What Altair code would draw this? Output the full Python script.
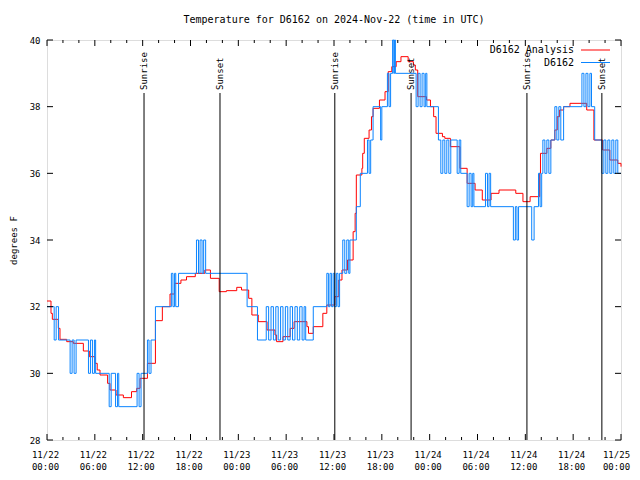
import altair as alt
import pandas as pd

# hours since 2024-11-22 00:00 UTC
analysis_hours = [0.0, 0.5, 0.67, 1.42, 1.63, 2.47, 3.3, 4.56, 5.31, 6.02, 6.3, 6.65, 7.6, 7.9, 8.66,
                  9.58, 10.6, 11.25, 11.67, 12.6, 13.6, 14.47, 15.43, 16.0, 16.8, 17.5, 18.6, 19.8,
                  20.5, 21.6, 22.5, 23.8, 24.4, 25.3, 25.7, 26.5, 27.6, 28.6, 28.8, 29.6, 30.5, 31.0,
                  32.6, 32.8, 33.4, 34.6, 35.1, 36.1, 36.6, 37.0, 37.7, 38.4, 38.65, 38.8, 39.5, 39.6,
                  39.8, 40.4, 40.7, 40.9, 41.7, 42.4, 42.8, 43.25, 43.8, 44.4, 45.3, 45.96, 46.2, 46.5,
                  47.6, 48.1, 48.5, 48.8, 49.6, 49.9, 50.6, 51.8, 52.7, 53.7, 54.6, 55.7, 56.7, 58.8,
                  59.7, 60.6, 61.8, 61.9, 62.7, 63.2, 63.7, 64.0, 64.3, 64.8, 65.6, 67.7, 68.6, 69.7,
                  70.6, 71.6, 72.0]
analysis_temps = [32.17, 31.8, 31.62, 31.35, 31.02, 30.95, 30.9, 30.67, 30.5, 30.3, 30.1, 29.95, 29.7, 29.5, 29.35,
                  29.27, 29.45, 29.55, 29.85, 30.3, 31.58, 32.0, 32.38, 32.7, 32.8, 32.9, 33.0, 33.1,
                  32.85, 32.45, 32.48, 32.58, 32.5, 32.25, 31.75, 31.55, 31.3, 31.15, 30.95, 31.1, 31.35, 31.55,
                  31.4, 31.2, 31.4, 31.8, 32.05, 32.3, 32.8, 33.1, 33.4, 34.25, 34.8, 35.95, 36.15, 36.6,
                  37.05, 37.3, 37.7, 37.95, 38.2, 38.45, 39.05, 39.2, 39.35, 39.5, 39.35, 39.25, 39.1, 38.3,
                  38.2, 38.0, 37.7, 37.2, 37.1, 37.05, 36.8, 36.15, 35.7, 35.5, 35.2, 35.4, 35.5, 35.4,
                  35.15, 35.3, 36.0, 36.6, 36.75, 37.0, 37.3, 37.7, 37.9, 38.0, 38.1, 37.9, 37.0, 36.7,
                  36.4, 36.3, 36.2]

obs_hours = [0.0, 0.9, 1.15, 1.45,
             2.9, 3.15, 3.4, 3.65,
             5.2, 5.45, 5.7, 5.95, 6.1,
             7.8, 8.05, 8.6, 8.85, 9.0,
             11.3, 11.55, 11.8,
             12.6, 12.8, 13.05, 13.6,
             15.6, 15.8, 16.0, 16.15, 16.5,
             18.75, 19.0, 19.2, 19.45, 19.65, 19.9,
             25.1, 26.4,
             27.5, 27.8, 28.1, 28.4, 28.7, 29.0, 29.3, 29.6, 29.9, 30.2, 30.5, 30.8, 31.1, 31.4, 31.7, 32.0, 32.25, 32.45,
             33.4,
             35.1, 35.3, 35.5, 35.7, 35.9, 36.1, 36.3, 36.5, 36.7,
             37.1, 37.35, 37.6, 37.85, 38.0,
             38.8, 39.3, 40.2, 40.4, 40.6, 40.9, 41.85, 42.0,
             42.7, 42.9, 43.1, 43.35, 43.5, 43.6, 43.7,
             46.3, 46.55, 46.8, 47.05, 47.3, 47.5, 47.65,
             49.1, 49.4, 49.65, 49.9, 50.15, 50.4, 50.65, 51.45, 51.7, 51.9,
             52.7, 52.95, 53.2, 53.4, 53.55,
             55.0, 55.25, 55.45, 55.65,
             58.5, 58.75, 58.95, 59.15,
             60.8, 61.1,
             61.65, 61.85, 62.05,
             62.2, 62.45, 62.7, 62.95, 63.2,
             63.7, 63.95, 64.2, 64.45, 64.8,
             67.1, 67.35, 67.6, 67.85, 68.1, 68.3,
             68.7,
             69.6, 69.85, 70.1, 70.35, 70.6, 70.85, 71.1, 71.35, 71.6, 72.0]
obs_temps = [32, 31, 32, 31,
             30, 31, 30, 31,
             30, 31, 30, 31, 30,
             29, 30, 29, 30, 29,
             30, 29, 30,
             31, 30, 31, 32,
             33, 32, 33, 32, 33,
             34, 33, 34, 33, 34, 33,
             32, 31,
             32, 31, 32, 31, 32, 31, 32, 31, 32, 31, 32, 31, 32, 31, 32, 31, 32, 31,
             32,
             33, 32, 33, 32, 33, 32, 33, 32, 33,
             34, 33, 34, 33, 34,
             35, 36, 37, 36, 37, 38, 37, 38,
             39, 38, 39, 40, 39, 40, 39,
             38, 39, 38, 39, 38, 39, 38,
             37, 36, 37, 36, 37, 36, 37, 36, 37, 36,
             35, 36, 35, 36, 35,
             36, 35, 36, 35,
             34, 35, 34, 35,
             34, 35,
             36, 35, 36,
             37, 36, 37, 36, 37,
             38, 37, 38, 37, 38,
             39, 38, 39, 38, 39, 38,
             37,
             36, 37, 36, 37, 36, 37, 36, 37, 36, 36]

sun_hours = [12.17, 21.7, 36.1, 45.67, 60.2, 69.6]
sun_labels = ["Sunrise", "Sunset", "Sunrise", "Sunset", "Sunrise", "Sunset"]

y_tick_values = [28, 30, 32, 34, 36, 38, 40]
x_major_ticks = [0, 6, 12, 18, 24, 30, 36, 42, 48, 54, 60, 66, 72]
x_minor_ticks = [2, 4, 8, 10, 14, 16, 20, 22, 26, 28, 32, 34, 38, 40, 44, 46, 50, 52, 56, 58, 62, 64, 68, 70]

FONT = "DejaVu Sans Mono"
W, H = 574, 400
BLUE = "#0a84ff"
RED = "#ff0000"

analysis_df = pd.DataFrame({"h": analysis_hours, "t": analysis_temps})
obs_df = pd.DataFrame({"h": obs_hours, "t": obs_temps})
sun_df = pd.DataFrame({"h": sun_hours, "label": sun_labels})
ytick_df = pd.DataFrame({"t": y_tick_values})
xmaj_df = pd.DataFrame({"h": x_major_ticks})
xmin_df = pd.DataFrame({"h": x_minor_ticks})

xs = alt.Scale(domain=[0, 72], nice=False, zero=False)
ys = alt.Scale(domain=[28, 40], nice=False, zero=False)

label_expr = ("['11/' + (22 + floor(datum.value / 24)), "
              "(datum.value % 24 < 10 ? '0' : '') + (datum.value % 24) + ':00']")
xaxis = alt.Axis(values=x_major_ticks, ticks=False, domain=False, grid=False, title=None,
                 labelExpr=label_expr, labelFont=FONT, labelFontSize=9, labelColor="black",
                 labelPadding=10, labelLineHeight=12,
                 labelOffset={"condition": {"test": "datum.value == 72", "value": -5}, "value": -2},
                 labelFlush=False, labelOverlap=False)
yaxis = alt.Axis(values=y_tick_values, ticks=False, domain=False, grid=False, title="degrees F",
                 labelFont=FONT, labelFontSize=9, labelColor="black", labelPadding=7,
                 titleFont=FONT, titleFontSize=9, titleFontWeight="normal", titleColor="black",
                 titleAngle=270, titleX=-34, titleY=200, titleAlign="center", titleBaseline="middle")

X = alt.X("h:Q", scale=xs, axis=xaxis)
Y = alt.Y("t:Q", scale=ys, axis=yaxis)

red = alt.Chart(analysis_df).mark_line(color=RED, strokeWidth=1, interpolate="step-after").encode(x=X, y=Y)
blue = alt.Chart(obs_df).mark_line(color=BLUE, strokeWidth=1, interpolate="step-after").encode(x=X, y=Y)

sun_rules = alt.Chart(sun_df).mark_rule(color="black", strokeWidth=1).encode(
    x=X, y=alt.value(53), y2=alt.value(H))
sun_text = alt.Chart(sun_df).mark_text(angle=270, align="left", baseline="middle", font=FONT,
                                       fontSize=9, color="black").encode(
    x=X, y=alt.value(50), text="label:N")

xmaj_bot = alt.Chart(xmaj_df).mark_rule(color="black", strokeWidth=1).encode(x=X, y=alt.value(H), y2=alt.value(H - 6))
xmaj_top = alt.Chart(xmaj_df).mark_rule(color="black", strokeWidth=1).encode(x=X, y=alt.value(0), y2=alt.value(6))
xmin_bot = alt.Chart(xmin_df).mark_rule(color="black", strokeWidth=1).encode(x=X, y=alt.value(H), y2=alt.value(H - 3))
xmin_top = alt.Chart(xmin_df).mark_rule(color="black", strokeWidth=1).encode(x=X, y=alt.value(0), y2=alt.value(3))
yt_left = alt.Chart(ytick_df).mark_rule(color="black", strokeWidth=1).encode(y=Y, x=alt.value(0), x2=alt.value(6))
yt_right = alt.Chart(ytick_df).mark_rule(color="black", strokeWidth=1).encode(y=Y, x=alt.value(W), x2=alt.value(W - 6))

one = pd.DataFrame({"k": [0]})
leg1_text = alt.Chart(one).mark_text(align="right", baseline="middle", font=FONT, fontSize=10, color="black").encode(
    x=alt.value(527), y=alt.value(10), text=alt.value("D6162 Analysis"))
leg1_line = alt.Chart(one).mark_rule(color=RED, strokeWidth=1).encode(
    x=alt.value(534), x2=alt.value(563), y=alt.value(10))
leg2_text = alt.Chart(one).mark_text(align="right", baseline="middle", font=FONT, fontSize=10, color="black").encode(
    x=alt.value(527), y=alt.value(23), text=alt.value("D6162"))
leg2_line = alt.Chart(one).mark_rule(color=BLUE, strokeWidth=1).encode(
    x=alt.value(534), x2=alt.value(563), y=alt.value(22.5))

chart = alt.layer(
    red, blue, sun_rules, sun_text,
    xmaj_bot, xmaj_top, xmin_bot, xmin_top, yt_left, yt_right,
    leg1_text, leg1_line, leg2_text, leg2_line,
).properties(
    width=W, height=H,
    title=alt.TitleParams("Temperature for D6162 on 2024-Nov-22 (time in UTC)", font=FONT,
                          fontSize=10, fontWeight="normal", color="black", anchor="middle", offset=11),
    autosize=alt.AutoSizeParams(type="none"),
    padding={"left": 39, "top": 32, "right": 11, "bottom": 32},
).configure_view(stroke="black", strokeWidth=1).configure(background="white")

chart.save("out.html", embed_options={"renderer": "svg", "actions": False})
